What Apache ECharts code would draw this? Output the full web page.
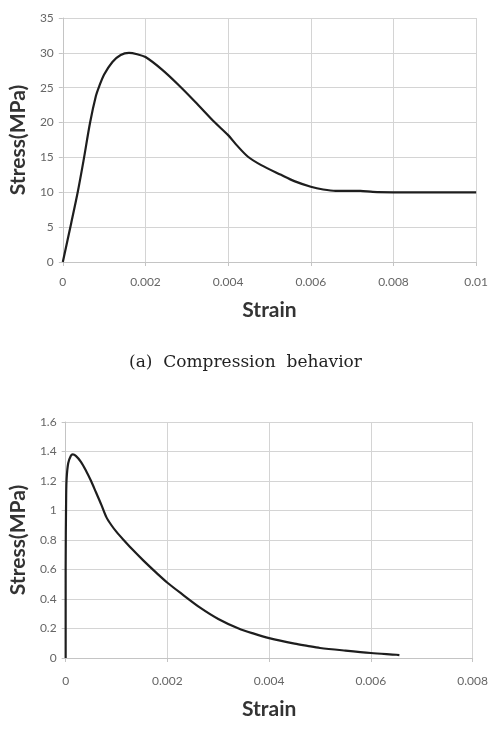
<!DOCTYPE html>
<html>
<head>
<meta charset="utf-8">
<style>
  html, body { margin: 0; padding: 0; background: #fff; }
  #chart { width: 491px; height: 749px; }
</style>
<script src="https://cdn.jsdelivr.net/npm/echarts@6/dist/echarts.min.js"></script>
</head>
<body>
<div id="chart"></div>
<script>
// compression curve (strain, stress MPa)
const compStrain = [0, 0.0002, 0.00036, 0.0005, 0.00066, 0.0008, 0.00088, 0.001, 0.0012, 0.0014, 0.0016, 0.0018, 0.002,
  0.0024, 0.0028, 0.0032, 0.00368, 0.004, 0.0042, 0.00448, 0.0048, 0.00528, 0.0056, 0.006, 0.0063, 0.0066, 0.007,
  0.0072, 0.0075, 0.008, 0.009, 0.01];
const compStress = [0, 5.5, 10, 14.5, 20, 23.8, 25.2, 26.9, 28.7, 29.7, 30, 29.8, 29.4,
  27.6, 25.4, 23, 20, 18.2, 16.8, 15.1, 13.9, 12.5, 11.6, 10.8, 10.4, 10.2, 10.2,
  10.2, 10.05, 10, 10, 10];

// tension curve
const tensStrain = [0, 0, 0.00001, 0.00002, 0.00005, 0.0001, 0.00014, 0.0002, 0.0003, 0.0004, 0.0005, 0.0006, 0.0007,
  0.0008, 0.0009, 0.001, 0.00114, 0.0013, 0.00153, 0.0018, 0.002, 0.0023, 0.00265, 0.003, 0.0034, 0.0037, 0.004,
  0.0045, 0.00475, 0.005, 0.0055, 0.006, 0.0065, 0.00656];
const tensStress = [0, 0.6, 1.1, 1.22, 1.32, 1.37, 1.38, 1.37, 1.33, 1.27, 1.2, 1.12, 1.04,
  0.955, 0.9, 0.855, 0.8, 0.74, 0.66, 0.572, 0.51, 0.43, 0.34, 0.265, 0.2, 0.165, 0.135,
  0.097, 0.082, 0.068, 0.05, 0.034, 0.022, 0.02];

const xTitle = 'Strain';
const yTitle = 'Stress(MPa)';
const caption = '(a)  Compression  behavior';

const gridColor = '#d4d4d4';
const labelStyle = { color: '#666', fontFamily: 'Lato', fontSize: 12 };
const titleStyle = { color: '#333', fontFamily: 'Lato', fontWeight: 'bold', fontSize: 21 };

function xAxis(gridIndex, max, margin, gap) {
  return {
    type: 'value', gridIndex: gridIndex, min: 0, max: max, interval: 0.002,
    name: xTitle, nameLocation: 'middle', nameGap: gap, nameTextStyle: titleStyle,
    axisLine: { show: true, lineStyle: { color: '#c4c4c4', width: 1 } },
    axisTick: { show: true, length: 4, lineStyle: { color: '#c4c4c4' } },
    axisLabel: Object.assign({ margin: margin }, labelStyle),
    splitLine: { show: true, lineStyle: { color: gridColor, width: 1 } }
  };
}
function yAxis(gridIndex, max, interval, gap) {
  return {
    type: 'value', gridIndex: gridIndex, min: 0, max: max, interval: interval,
    name: yTitle, nameLocation: 'middle', nameGap: gap, nameRotate: 90, nameTextStyle: titleStyle,
    axisLine: { show: true, lineStyle: { color: '#c4c4c4', width: 1 } },
    axisTick: { show: true, length: 4, lineStyle: { color: '#c4c4c4' } },
    axisLabel: Object.assign({ margin: 9 }, labelStyle),
    splitLine: { show: true, lineStyle: { color: gridColor, width: 1 } }
  };
}

const chart = echarts.init(document.getElementById('chart'));
chart.setOption({
  backgroundColor: '#fff',
  animation: false,
  grid: [
    { left: 60, right: 14, top: 18, height: 244 },
    { left: 63, right: 18, top: 422, height: 236 }
  ],
  xAxis: [xAxis(0, 0.01, 14, 38), xAxis(1, 0.008, 17, 41)],
  yAxis: [yAxis(0, 35, 5, 30), yAxis(1, 1.6, 0.2, 34)],
  graphic: [{
    type: 'text', left: 'center', top: 354,
    style: { text: caption, fill: '#222', font: '17px "DejaVu Serif"' }
  }],
  series: [
    {
      type: 'line', xAxisIndex: 0, yAxisIndex: 0, showSymbol: false, smooth: 0.3,
      lineStyle: { color: '#1e1e1e', width: 2.2 },
      data: compStrain.map((s, i) => [s, compStress[i]])
    },
    {
      type: 'line', xAxisIndex: 1, yAxisIndex: 1, showSymbol: false, smooth: 0.3,
      lineStyle: { color: '#1e1e1e', width: 2.2 },
      data: tensStrain.map((s, i) => [s, tensStress[i]])
    }
  ]
});
</script>
</body>
</html>
